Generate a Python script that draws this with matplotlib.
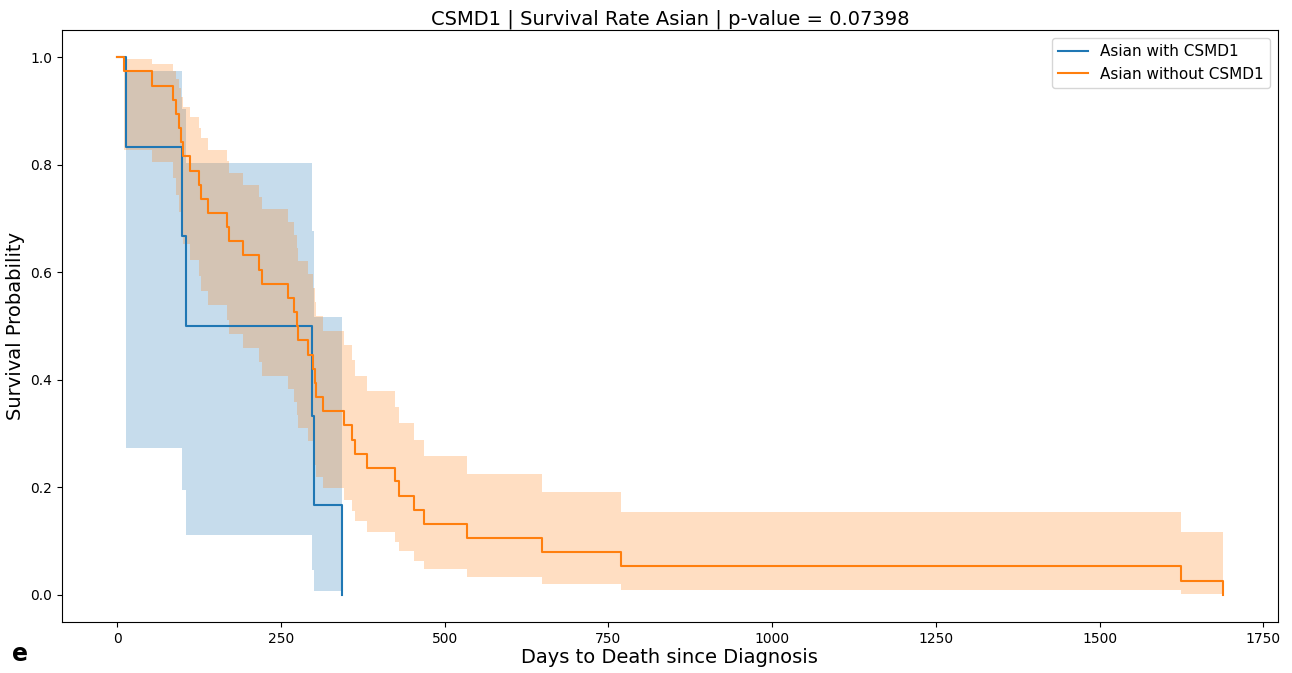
import numpy as np
import matplotlib
matplotlib.use("Agg")
import matplotlib.pyplot as plt

# Asian with CSMD1 (n=6): event times, KM estimate and 95% CI
with_t = [0, 14, 99, 105, 297, 300, 344]
with_s = [1.0, 0.833, 0.667, 0.5, 0.333, 0.167, 0.0]
with_lo = [1.0, 0.274, 0.195, 0.111, 0.046, 0.008, 0.008]
with_hi = [1.0, 0.975, 0.904, 0.804, 0.676, 0.517, 0.517]

# Asian without CSMD1
without_t = [0, 10, 53, 86, 90, 94, 97, 101, 112, 125, 128, 139, 168, 171,
             193, 216, 222, 261, 270, 274, 276, 292, 299, 302, 304, 315,
             346, 358, 364, 381, 425, 431, 453, 469, 535, 649, 769, 1625, 1688]
without_s = [1.0, 0.974, 0.947, 0.921, 0.895, 0.868, 0.842, 0.816, 0.789,
             0.763, 0.737, 0.711, 0.684, 0.658, 0.632, 0.605, 0.579, 0.553,
             0.526, 0.500, 0.474, 0.447, 0.421, 0.395, 0.368, 0.342, 0.316,
             0.289, 0.263, 0.237, 0.211, 0.184, 0.158, 0.132, 0.105, 0.079,
             0.053, 0.026, 0.0]
without_lo = [1.0, 0.828, 0.806, 0.775, 0.743, 0.712, 0.682, 0.652, 0.623,
              0.594, 0.566, 0.539, 0.512, 0.485, 0.459, 0.433, 0.408, 0.383,
              0.358, 0.334, 0.310, 0.287, 0.264, 0.242, 0.220, 0.198, 0.177,
              0.157, 0.137, 0.118, 0.099, 0.081, 0.064, 0.048, 0.033, 0.020,
              0.010, 0.002, 0.002]
without_hi = [1.0, 0.996, 0.987, 0.974, 0.959, 0.943, 0.926, 0.908, 0.889,
              0.869, 0.849, 0.828, 0.807, 0.785, 0.763, 0.740, 0.717, 0.693,
              0.670, 0.645, 0.621, 0.596, 0.570, 0.544, 0.518, 0.491, 0.464,
              0.436, 0.408, 0.379, 0.350, 0.320, 0.289, 0.258, 0.225, 0.191,
              0.155, 0.118, 0.118]

gene = "CSMD1"
p_value = 0.07398

fig, ax = plt.subplots(figsize=(12.92, 6.73), dpi=100)
fig.subplots_adjust(left=0.048, right=0.989, top=0.955, bottom=0.076)

groups = [
    (f"Asian with {gene}", with_t, with_s, with_lo, with_hi, "C0"),
    (f"Asian without {gene}", without_t, without_s, without_lo, without_hi, "C1"),
]
for label, t, s, lo, hi, col in groups:
    ax.plot(t, s, drawstyle="steps-post", color=col, lw=1.5, label=label)
    ax.fill_between(t, lo, hi, step="post", color=col, alpha=0.25, lw=0)

ax.set_xlim(-84, 1772)
ax.set_ylim(-0.05, 1.05)
ax.set_xticks(np.arange(0, 1751, 250))
ax.set_yticks(np.arange(0, 1.01, 0.2))
ax.tick_params(labelsize=10)
ax.set_title(f"{gene} | Survival Rate Asian | p-value = {p_value}", fontsize=14, pad=4)
ax.set_xlabel("Days to Death since Diagnosis", fontsize=14, labelpad=2)
ax.set_ylabel("Survival Probability", fontsize=14)
ax.legend(loc="upper right", fontsize=11)

fig.text(0.009, 0.018, "e", fontsize=17, fontweight="bold")

fig.savefig("out.png", dpi=100)
